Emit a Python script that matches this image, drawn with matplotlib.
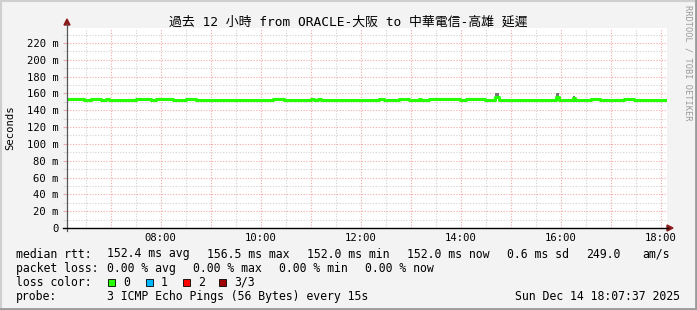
import matplotlib
matplotlib.use("Agg")
import matplotlib.pyplot as plt
from matplotlib.lines import Line2D
from matplotlib.patches import Rectangle, Polygon
import numpy as np

# ---------------- data ----------------
# time in hours of the day (step start), median rtt in ms
times = [6.127, 6.46, 6.60, 6.80, 6.90, 6.96, 7.50, 7.80, 7.90, 8.24, 8.50, 8.70,
         10.24, 10.46, 11.00, 11.06, 11.14, 11.20, 12.36, 12.46, 12.76, 12.96,
         13.16, 13.20, 13.36, 13.98, 14.10, 14.48, 14.68, 14.76, 15.90, 15.96,
         16.24, 16.28, 16.60, 16.78, 17.26, 17.46, 18.127]
median_ms = [153.8, 152.3, 153.8, 152.3, 153.8, 152.3, 153.8, 152.3, 153.8, 152.3,
             153.8, 152.3, 153.8, 152.3, 153.8, 152.3, 153.8, 152.3, 153.8, 152.3,
             153.8, 152.3, 153.8, 152.3, 153.8, 152.3, 153.8, 152.3, 156.0, 152.3,
             156.0, 152.3, 155.0, 152.3, 153.8, 152.3, 153.8, 152.3, 152.3]
smoke_hi = [m + 0.3 for m in median_ms]
smoke_lo = [m - 0.3 for m in median_ms]
smoke_hi[28] = 160.5
smoke_hi[30] = 160.5
smoke_hi[32] = 156.5

x_start, x_end = 6.127, 18.127
y_top = 237.8
y_ticks = [0, 20, 40, 60, 80, 100, 120, 140, 160, 180, 200, 220]
x_tick_hours = [8, 10, 12, 14, 16, 18]

title = "過去 12 小時 from ORACLE-大阪 to 中華電信-高雄 延遲"
legend_rtt = [("median rtt:", 16), ("152.4 ms avg", 107), ("156.5 ms max", 207),
              ("152.0 ms min", 307), ("152.0 ms now", 407), ("0.6 ms sd", 507),
              ("249.0", 586), ("am/s", 642)]
legend_loss = [("packet loss:", 16), ("0.00 % avg", 107), ("0.00 % max", 193),
               ("0.00 % min", 279), ("0.00 % now", 365)]
loss_labels = ["0", "1", "2", "3/3"]
loss_colors = ["#26ff00", "#00b8ff", "#ff0000", "#a00000"]
probe_text = "3 ICMP Echo Pings (56 Bytes) every 15s"
date_text = "Sun Dec 14 18:07:37 2025"

# ---------------- figure ----------------
W, H = 697, 310
fig = plt.figure(figsize=(W / 100, H / 100), dpi=100)
fig.patch.set_facecolor("#f3f3f3")

def fx(x):
    return x / W

def fy(y):
    return 1 - y / H

MONO = ["DejaVu Sans Mono", "Noto Sans CJK JP"]

L, R, T, B = 67, 667, 28, 228
ax = fig.add_axes([fx(L), fy(B), (R - L) / W, (B - T) / H])
ax.set_facecolor("white")
ax.set_xlim(x_start, x_end)
ax.set_ylim(0, y_top)

# grid
ax.set_yticks(y_ticks)
ax.set_yticks(np.arange(10, 240, 20), minor=True)
ax.set_yticklabels([("%d m" % v) if v else "0" for v in y_ticks],
                   fontfamily="DejaVu Sans Mono", fontsize=7.6)
ax.set_xticks(np.arange(7, 19, 1))
ax.set_xticks(np.arange(6.5, 18.2, 1), minor=True)
ax.set_xticklabels(["%02d:00" % h if h in x_tick_hours else "" for h in range(7, 19)],
                   fontfamily="DejaVu Sans Mono", fontsize=7.6)
ax.grid(which="major", color="#f2a8a8", linestyle=(0, (1, 1.5)), linewidth=0.8)
ax.grid(which="minor", color="#d2d2d2", linestyle=(0, (1, 1.5)), linewidth=0.8)
ax.tick_params(axis="y", which="major", length=3, color="#f2a8a8", pad=3)
ax.tick_params(axis="y", which="minor", length=3, color="#d2d2d2")
ax.tick_params(axis="x", which="both", length=0, pad=3.5)
for s in ["top", "right", "left", "bottom"]:
    ax.spines[s].set_visible(False)

# smoke + median
ax.fill_between(times, smoke_lo, smoke_hi, step="post", color="#777777",
                linewidth=0, zorder=3)
ax.step(times, median_ms, where="post", color=loss_colors[0], linewidth=2.2,
        zorder=4, solid_capstyle="butt")

# axes lines and arrows
fig.add_artist(Line2D([fx(L), fx(L)], [fy(B + 3), fy(24)], color="#555555", linewidth=0.9))
fig.add_artist(Line2D([fx(63), fx(668)], [fy(B), fy(B)], color="black", linewidth=1.0))
fig.add_artist(Polygon([[fx(L - 3), fy(25)], [fx(L + 3), fy(25)], [fx(L), fy(19)]],
                       closed=True, color="#8b1a1a"))
fig.add_artist(Polygon([[fx(667), fy(B - 3)], [fx(667), fy(B + 3)], [fx(673), fy(B)]],
                       closed=True, color="#8b1a1a"))

# titles
fig.text(fx(348), fy(22), title, ha="center", va="center", fontsize=9.3, family=MONO)
fig.text(fx(10), fy(128), "Seconds", rotation=90, ha="center", va="center",
         fontsize=7.6, family="DejaVu Sans Mono")
fig.text(fx(688), fy(5), "RRDTOOL / TOBI OETIKER", rotation=270, ha="center", va="top",
         fontsize=6.2, family="DejaVu Sans Mono", color="#9a9a9a")

# legend
FS = 8.3
for s, x in legend_rtt:
    fig.text(fx(x), fy(257.5), s, ha="left", va="baseline", fontsize=FS, family="DejaVu Sans Mono")
for s, x in legend_loss:
    fig.text(fx(x), fy(271.7), s, ha="left", va="baseline", fontsize=FS, family="DejaVu Sans Mono")
fig.text(fx(16), fy(285.8), "loss color:", ha="left", va="baseline", fontsize=FS,
         family="DejaVu Sans Mono")
box_x = [108, 146, 183, 219]
for lab, col, bx in zip(loss_labels, loss_colors, box_x):
    fig.add_artist(Rectangle((fx(bx), fy(286)), 7 / W, 7 / H, facecolor=col,
                             edgecolor="black", linewidth=0.6))
    fig.text(fx(bx + 15), fy(285.8), lab, ha="left", va="baseline", fontsize=FS,
             family="DejaVu Sans Mono")
fig.text(fx(16), fy(300), "probe:", ha="left", va="baseline", fontsize=FS, family="DejaVu Sans Mono")
fig.text(fx(107), fy(300), probe_text, ha="left", va="baseline", fontsize=FS, family="DejaVu Sans Mono")
fig.text(fx(680), fy(300), date_text, ha="right", va="baseline", fontsize=FS, family="DejaVu Sans Mono")

# frame shading
fig.add_artist(Line2D([fx(0), fx(W)], [fy(0.5), fy(0.5)], color="#cfcfcf", linewidth=1.5))
fig.add_artist(Line2D([fx(0.5), fx(0.5)], [fy(0), fy(H)], color="#cfcfcf", linewidth=1.5))
fig.add_artist(Line2D([fx(W - 1), fx(W - 1)], [fy(0), fy(H)], color="#9a9a9a", linewidth=2))
fig.add_artist(Line2D([fx(0), fx(W)], [fy(H - 1), fy(H - 1)], color="#9a9a9a", linewidth=2))

fig.savefig("out.png", dpi=100, facecolor=fig.get_facecolor())
